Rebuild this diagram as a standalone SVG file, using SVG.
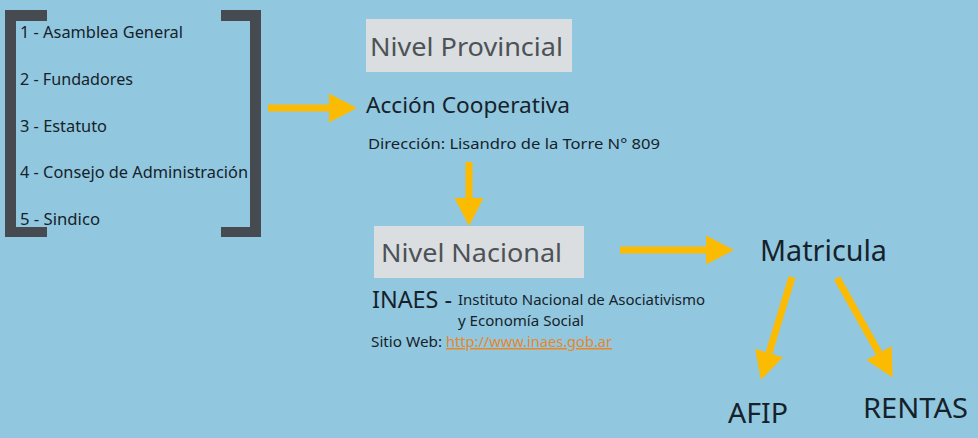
<svg xmlns="http://www.w3.org/2000/svg" width="978" height="438" viewBox="0 0 978 438">
<style>
text{font-family:"Noto Sans","Open Sans","Liberation Sans",sans-serif;fill:#16222b}
.item{font-size:15.5px}
.box{fill:#dadee1}
.title{font-size:26px;fill:#4d5256}
.br{fill:#454b51}
.arrow{stroke:#fbbb03;stroke-width:7;fill:none}
.small{font-size:15px}
.big{font-size:27px}
</style>
<defs>
<marker id="ah" markerUnits="userSpaceOnUse" markerWidth="28" markerHeight="30" refX="0" refY="14.5" orient="auto" viewBox="0 0 28 29">
<path d="M0,0 L28,14.5 L0,29 z" fill="#fbbb03"/>
</marker>
</defs>
<rect width="978" height="438" fill="#92c8df"/>
<g id="list">
<path class="br" d="M5,10 H47 V21 H16 V227 H47 V237 H5 Z"/>
<path class="br" d="M221,10 H261 V237 H221 V227 H250 V21 H221 Z"/>
<text class="item" x="20" y="38" textLength="163" lengthAdjust="spacingAndGlyphs">1 - Asamblea General</text>
<text class="item" x="20" y="85" textLength="113" lengthAdjust="spacingAndGlyphs">2 - Fundadores</text>
<text class="item" x="20" y="132" textLength="87" lengthAdjust="spacingAndGlyphs">3 - Estatuto</text>
<text class="item" x="20" y="178" textLength="228" lengthAdjust="spacingAndGlyphs">4 - Consejo de Administración</text>
<text class="item" x="20" y="225" textLength="80" lengthAdjust="spacingAndGlyphs">5 - Sindico</text>
</g>
<g id="provincial">
<rect class="box" x="366" y="19" width="206" height="53"/>
<text class="title" x="370" y="56" textLength="193" lengthAdjust="spacingAndGlyphs">Nivel Provincial</text>
</g>
<g id="accion">
<text x="366" y="113" font-size="22" textLength="204" lengthAdjust="spacingAndGlyphs">Acción Cooperativa</text>
<text class="small" x="368" y="149" textLength="292" lengthAdjust="spacingAndGlyphs">Dirección: Lisandro de la Torre N° 809</text>
</g>
<g id="nacional">
<rect class="box" x="374" y="226" width="210" height="52"/>
<text class="title" x="381" y="262" textLength="181" lengthAdjust="spacingAndGlyphs">Nivel Nacional</text>
</g>
<g id="inaes">
<text x="372" y="308" font-size="23" textLength="80" lengthAdjust="spacingAndGlyphs">INAES -</text>
<text class="small" x="458" y="305" textLength="247" lengthAdjust="spacingAndGlyphs">Instituto Nacional de Asociativismo</text>
<text class="small" x="458" y="326" textLength="126" lengthAdjust="spacingAndGlyphs">y Economía Social</text>
<text class="small" x="371" y="347" textLength="71" lengthAdjust="spacingAndGlyphs">Sitio Web:</text>
<text class="small" x="446" y="347" textLength="166" lengthAdjust="spacingAndGlyphs" style="fill:#e8862a;text-decoration:underline">http://www.inaes.gob.ar</text>
</g>
<g id="matricula">
<text x="760" y="261" font-size="29" textLength="127" lengthAdjust="spacingAndGlyphs">Matricula</text>
</g>
<g id="afip">
<text x="728" y="423" font-size="28" textLength="60" lengthAdjust="spacingAndGlyphs">AFIP</text>
</g>
<g id="rentas">
<text x="863" y="418" font-size="28" textLength="105" lengthAdjust="spacingAndGlyphs">RENTAS</text>
</g>
<g id="connectors">
<line class="arrow" x1="268" y1="108" x2="329" y2="108" marker-end="url(#ah)"/>
<line class="arrow" x1="469" y1="162" x2="469" y2="198" marker-end="url(#ah)"/>
<line class="arrow" x1="620" y1="250" x2="706" y2="250" marker-end="url(#ah)"/>
<line class="arrow" x1="792" y1="277" x2="769" y2="353" marker-end="url(#ah)"/>
<line class="arrow" x1="837" y1="278" x2="879" y2="353" marker-end="url(#ah)"/>
</g>
</svg>
